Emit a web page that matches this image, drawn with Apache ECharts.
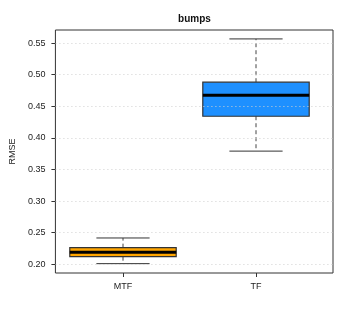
<!DOCTYPE html>
<html><head><meta charset="utf-8">
<script src="https://cdn.jsdelivr.net/npm/echarts@6/dist/echarts.min.js"></script>
<style>html,body{margin:0;padding:0;background:#fff}#c{width:347px;height:316px}</style>
</head><body><div id="c"></div>
<script>
const categories = ['MTF', 'TF'];
const lowerWhisker = [0.201, 0.379];
const q1 = [0.212, 0.4342];
const median = [0.219, 0.4674];
const q3 = [0.2263, 0.488];
const upperWhisker = [0.2416, 0.5565];
const boxColors = ['#FFA500', '#1E90FF'];
const yTicks = [0.20, 0.25, 0.30, 0.35, 0.40, 0.45, 0.50, 0.55];
const yMin = 0.1862, yMax = 0.5706;

const data = categories.map((c, i) => [i, lowerWhisker[i], q1[i], median[i], q3[i], upperWhisker[i]]);

function renderItem(params, api) {
  const x = api.value(0);
  const band = api.size([1, 0])[0];
  const bw = band * 0.8, sw = band * 0.4;
  const pLo = api.coord([x, api.value(1)]);
  const pQ1 = api.coord([x, api.value(2)]);
  const pMed = api.coord([x, api.value(3)]);
  const pQ3 = api.coord([x, api.value(4)]);
  const pHi = api.coord([x, api.value(5)]);
  const cx = pLo[0];
  const dash = { stroke: '#444', lineWidth: 1, lineDash: [4, 3] };
  const solid = { stroke: '#333', lineWidth: 1 };
  return {
    type: 'group',
    children: [
      { type: 'line', shape: { x1: cx, y1: pQ1[1], x2: cx, y2: pLo[1] }, style: dash },
      { type: 'line', shape: { x1: cx, y1: pQ3[1], x2: cx, y2: pHi[1] }, style: dash },
      { type: 'line', shape: { x1: cx - sw / 2, y1: pLo[1], x2: cx + sw / 2, y2: pLo[1] }, style: solid },
      { type: 'line', shape: { x1: cx - sw / 2, y1: pHi[1], x2: cx + sw / 2, y2: pHi[1] }, style: solid },
      { type: 'rect', shape: { x: cx - bw / 2, y: pQ3[1], width: bw, height: pQ1[1] - pQ3[1] },
        style: { fill: boxColors[params.dataIndex], stroke: '#333', lineWidth: 1.2 } },
      { type: 'line', shape: { x1: cx - bw / 2, y1: pMed[1], x2: cx + bw / 2, y2: pMed[1] },
        style: { stroke: '#000', lineWidth: 3 } }
    ]
  };
}

const chart = echarts.init(document.getElementById('c'), null, { renderer: 'canvas' });
const font = 'Liberation Sans, Arial, Helvetica, sans-serif';
chart.setOption({
  animation: false,
  title: {
    text: 'bumps', left: 189.5, textAlign: 'center', top: 9,
    textStyle: { fontFamily: font, fontSize: 10, fontWeight: 'bold', color: '#111' }
  },
  grid: [
    { left: 56.5, top: 30, width: 266, height: 243, show: false },
    { left: 46, top: 30, width: 287, height: 243, show: true, borderColor: '#333', borderWidth: 1, backgroundColor: 'transparent', z: 0 }
  ],
  xAxis: [
    { gridIndex: 0, type: 'category', data: categories, boundaryGap: true,
      axisLine: { show: false },
      axisTick: { show: true, alignWithLabel: true, length: 4, lineStyle: { color: '#333' } },
      axisLabel: { fontFamily: font, fontSize: 9, color: '#222', margin: 9 },
      splitLine: { show: false } },
    { gridIndex: 1, type: 'value', min: 0, max: 1, show: false }
  ],
  yAxis: [
    { gridIndex: 0, type: 'value', min: yMin, max: yMax, show: false },
    { gridIndex: 1, type: 'value', min: yMin, max: yMax, splitNumber: 7, z: 5,
      name: 'RMSE', nameLocation: 'middle', nameGap: 31,
      nameTextStyle: { fontFamily: font, fontSize: 9, color: '#222' },
      axisLine: { show: false },
      axisTick: { show: true, length: 4, lineStyle: { color: '#333' }, customValues: yTicks },
      axisLabel: { fontFamily: font, fontSize: 9, color: '#222', margin: 10, customValues: yTicks,
        formatter: v => v.toFixed(2) },
      splitLine: { show: true, lineStyle: { color: '#d0d0d0', type: [1, 3], width: 1 } } }
  ],
  series: [{
    type: 'custom', xAxisIndex: 0, yAxisIndex: 0, renderItem: renderItem,
    encode: { x: 0, y: [1, 2, 3, 4, 5] }, data: data, z: 2
  }]
});
</script></body></html>
